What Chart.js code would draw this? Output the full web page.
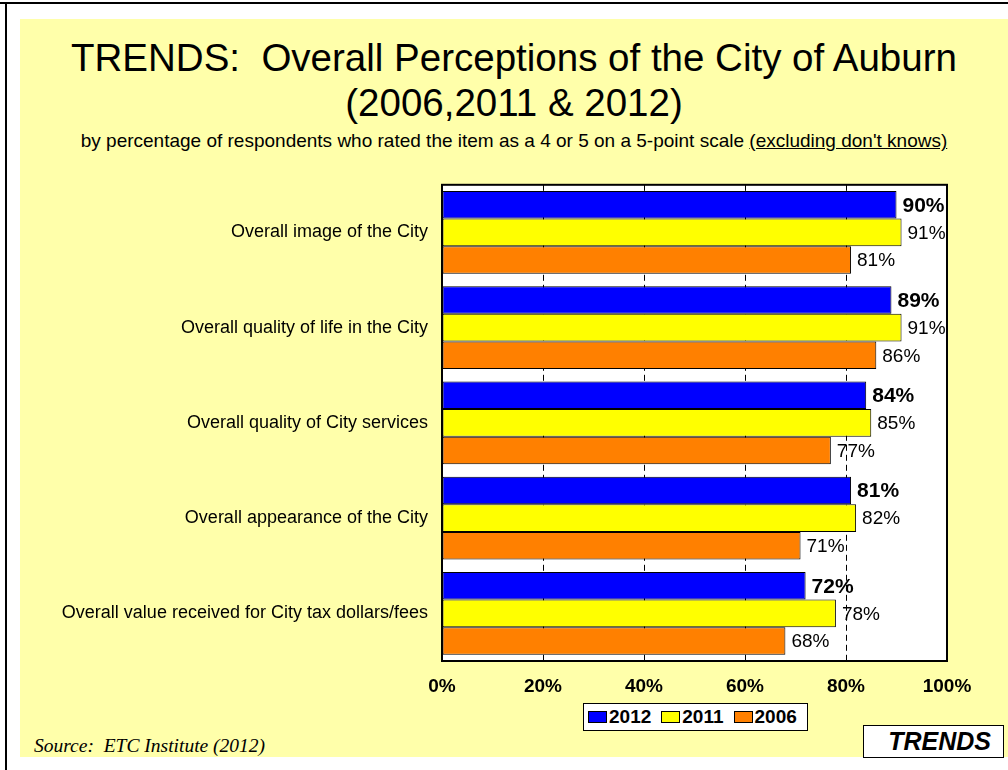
<!DOCTYPE html>
<html>
<head>
<meta charset="utf-8">
<script src="https://cdn.jsdelivr.net/npm/chart.js@4.4.0/dist/chart.umd.min.js"></script>
<style>
  body { margin: 0; width: 1008px; height: 770px; background: #fff; position: relative; overflow: hidden; font-family: "Liberation Sans", Arial, sans-serif; }
  .frameTop { position: absolute; left: 0; top: 2px; width: 1008px; height: 2px; background: #000; }
  .frameLeft { position: absolute; left: 5px; top: 2px; width: 2px; height: 768px; background: #000; }
  .panel { position: absolute; left: 20px; top: 19px; width: 988px; height: 738px; background: #ffffaa; }
  .title { position: absolute; left: 20px; top: 35px; width: 988px; text-align: center; font-size: 38.5px; line-height: 45px; color: #000; }
  .sub { position: absolute; left: 20px; top: 130px; width: 988px; text-align: center; font-size: 19px; line-height: 22px; color: #000; }
  .sub u { text-decoration: underline; }
  #wrap { position: absolute; left: 20px; top: 160px; width: 988px; height: 545px; }
  .legend { position: absolute; left: 583px; top: 703px; width: 219px; height: 26px; background: #fff; border: 1px solid #000; font-weight: bold; font-size: 19px; display: flex; align-items: center; padding-left: 4px; }
  .legend span.box { display: inline-block; width: 17px; height: 10px; border: 1px solid #000; margin-right: 2px; }
  .legend span.lbl { margin-right: 10px; }
  .source { position: absolute; left: 34px; top: 735px; font-family: "Liberation Serif", "Times New Roman", serif; font-style: italic; font-size: 19.5px; }
  .trends { position: absolute; left: 863px; top: 725px; width: 139px; height: 31px; background: #fff; border: 1px solid #000; font-weight: bold; font-style: italic; font-size: 25px; line-height: 31px; }
  .trends span { position: absolute; right: 12px; top: 0; }
</style>
</head>
<body>
<div class="frameTop"></div>
<div class="frameLeft"></div>
<div class="panel"></div>
<div class="title">TRENDS:&nbsp; Overall Perceptions of the City of Auburn<br>(2006,2011 &amp; 2012)</div>
<div class="sub">by percentage of respondents who rated the item as a 4 or 5 on a 5-point scale <u>(excluding don't knows)</u></div>
<div id="wrap"><canvas id="grafica"></canvas></div>
<div class="legend" id="legend"></div>
<div class="source">Source:&nbsp; ETC Institute (2012)</div>
<div class="trends"><span>TRENDS</span></div>
<script>
const categorias = [
  'Overall image of the City',
  'Overall quality of life in the City',
  'Overall quality of City services',
  'Overall appearance of the City',
  'Overall value received for City tax dollars/fees',
];
const anios = ['2012', '2011', '2006'];
const datos2012 = [90, 89, 84, 81, 72];
const datos2011 = [91, 91, 85, 82, 78];
const datos2006 = [81, 86, 77, 71, 68];
const colores = ['#0000ff', '#ffff00', '#ff8000'];
const xTicks = [0, 20, 40, 60, 80, 100];

const series = [datos2012, datos2011, datos2006];

// legend in html
const $legend = document.querySelector('#legend');
let leg = '';
anios.forEach((anio, i) => {
  leg += `<span class="box" style="background:${colores[i]}"></span><span class="lbl">${anio}</span>`;
});
$legend.innerHTML = leg;

// white plot area + border
const plotFondo = {
  id: 'plotFondo',
  beforeDraw(chart) {
    const { ctx, chartArea: a } = chart;
    ctx.save();
    ctx.fillStyle = '#fff';
    ctx.fillRect(a.left, a.top, a.right - a.left, a.bottom - a.top);
    ctx.restore();
  },
  afterDraw(chart) {
    const { ctx, chartArea: a } = chart;
    ctx.save();
    ctx.strokeStyle = '#000';
    ctx.lineWidth = 2;
    ctx.strokeRect(a.left, a.top, a.right - a.left, a.bottom - a.top);
    ctx.restore();
  },
};

// percent labels at the end of each bar (2012 in bold)
const etiquetasBarras = {
  id: 'etiquetasBarras',
  afterDatasetsDraw(chart) {
    const { ctx } = chart;
    ctx.save();
    ctx.fillStyle = '#000';
    ctx.textBaseline = 'middle';
    ctx.textAlign = 'left';
    chart.data.datasets.forEach((ds, i) => {
      const meta = chart.getDatasetMeta(i);
      ctx.font = i === 0 ? 'bold 21px "Liberation Sans", Arial, sans-serif' : '19px "Liberation Sans", Arial, sans-serif';
      meta.data.forEach((bar, j) => {
        ctx.fillText(`${ds.data[j]}%`, bar.x + 6, bar.y + 1);
      });
    });
    ctx.restore();
  },
};

const $grafica = document.querySelector('#grafica');
// eslint-disable-next-line no-new, no-undef
new Chart($grafica, {
  type: 'bar',
  data: {
    labels: categorias,
    datasets: anios.map((anio, i) => ({
      label: anio,
      data: series[i],
      backgroundColor: colores[i],
      borderColor: '#000',
      borderWidth: 1,
      borderSkipped: false,
      categoryPercentage: 0.87,
      barPercentage: 1,
    })),
  },
  options: {
    indexAxis: 'y',
    responsive: true,
    maintainAspectRatio: false,
    devicePixelRatio: 1,
    animation: false,
    layout: { padding: { top: 21, right: 61, bottom: 0, left: 0 } },
    plugins: {
      legend: { display: false },
      tooltip: { enabled: false },
    },
    scales: {
      x: {
        min: 0,
        max: 100,
        afterBuildTicks(axis) {
          axis.ticks = xTicks.map((v) => ({ value: v }));
        },
        afterFit(axis) { axis.height = 44; },
        grid: {
          color: '#000',
          lineWidth: 1,
          drawTicks: false,
        },
        border: { display: false, dash: [6, 4] },
        ticks: {
          padding: 14,
          color: '#000',
          font: { family: '"Liberation Sans", Arial, sans-serif', size: 19, weight: 'bold' },
          callback: (v) => `${v}%`,
        },
      },
      y: {
        afterFit(axis) { axis.width = 422; },
        grid: { display: false, drawTicks: false },
        border: { display: false },
        ticks: {
          padding: 14,
          color: '#000',
          font: { family: '"Liberation Sans", Arial, sans-serif', size: 18 },
        },
      },
    },
  },
  plugins: [plotFondo, etiquetasBarras],
});
</script>
</body>
</html>
